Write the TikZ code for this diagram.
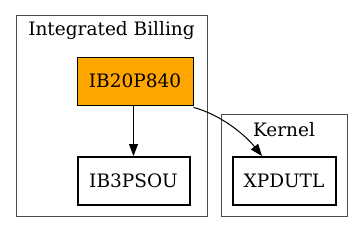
\documentclass[tikz,border=0pt]{standalone}
\usepackage{fontspec}
\setmainfont{DejaVu Serif}
\usetikzlibrary{arrows.meta}
\definecolor{gvorange}{HTML}{FFA500}

\begin{document}
\begin{tikzpicture}[x=1pt, y=-1pt,
    every node/.style={font=\fontsize{18.5}{22}\selectfont},
    cluster/.style={draw=black!70, line width=1pt},
    mod/.style={rectangle, draw, line width=2pt, minimum height=48pt, inner sep=0pt},
    edge/.style={line width=1pt, -{Triangle[length=12pt, width=9pt]}}]

    \useasboundingbox (0,0) rectangle (363,232);

    % clusters
    \draw[cluster] (16,16) rectangle (207,216);
    \draw[cluster] (221,115) rectangle (347,216);
    \node (billing) at (111.5,31) {Integrated Billing};
    \node (kernel) at (284,130) {Kernel};

    \node[mod, fill=gvorange, line width=0.8pt, minimum width=116pt] (p840) at (135,81) {IB20P840};
    \node[mod, minimum width=112pt] (psou) at (133.5,181) {IB3PSOU};
    \node[mod, minimum width=103pt] (xpdutl) at (284,181) {XPDUTL};

    \draw[edge] (p840.south -| psou.north) -- (psou.north);
    \draw[edge] ([yshift=-2pt]p840.south east) .. controls (222,115) and (246,136) .. ([xshift=-22pt]xpdutl.north);
\end{tikzpicture}
\end{document}
